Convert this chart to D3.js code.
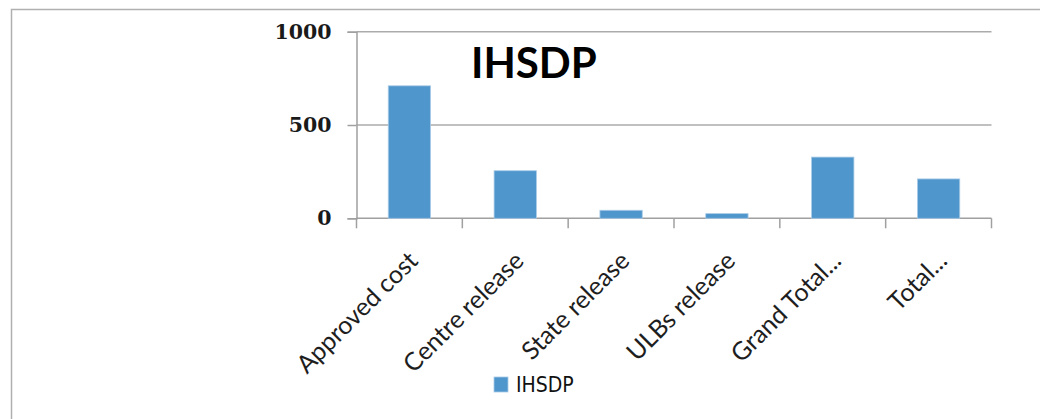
<!DOCTYPE html>
<html>
<head>
<meta charset="utf-8">
<script src="https://cdn.jsdelivr.net/npm/d3@7"></script>
<style>
  html, body { margin: 0; padding: 0; background: #fff; }
  svg { display: block; }
</style>
</head>
<body>
<svg id="chart" width="1040" height="419"></svg>
<script>
// IHSDP fund figures
const categories = ["Approved cost", "Centre release", "State release", "ULBs release", "Grand Total...", "Total..."];
const values = [710, 255, 43, 25, 328, 211];
const yTicks = [0, 500, 1000];
const seriesName = "IHSDP";

const svg = d3.select("#chart");
const W = 1040, H = 419;
const plot = { left: 356.5, right: 991.5, top: 31.7, bottom: 218.3 };

// outer chart frame
svg.append("rect")
  .attr("x", 11.5).attr("y", 9.5)
  .attr("width", W).attr("height", H)
  .attr("fill", "none").attr("stroke", "#b0b0b0").attr("stroke-width", 1.5);

const x = d3.scaleBand()
  .domain(categories)
  .range([plot.left, plot.right])
  .paddingInner(0.6)
  .paddingOuter(0.3);

const y = d3.scaleLinear()
  .domain([0, 1000])
  .range([plot.bottom, plot.top]);

// horizontal gridlines
svg.append("g")
  .selectAll("line")
  .data(yTicks.filter(d => d > 0))
  .join("line")
  .attr("x1", plot.left).attr("x2", plot.right)
  .attr("y1", d => y(d)).attr("y2", d => y(d))
  .attr("stroke", "#ababab").attr("stroke-width", 1.5);

// y axis
const yAxis = svg.append("g")
  .attr("transform", `translate(${plot.left},0)`)
  .call(d3.axisLeft(y).tickValues(yTicks).tickSize(9).tickPadding(16).tickFormat(d3.format("d")));
yAxis.select(".domain").attr("stroke", "#a0a0a0").attr("stroke-width", 1.5);
yAxis.selectAll(".tick line").attr("stroke", "#a0a0a0").attr("stroke-width", 1.5);
yAxis.selectAll(".tick text")
  .attr("font-family", "DejaVu Serif")
  .attr("font-weight", "bold")
  .attr("font-size", 20.5)
  .attr("fill", "#1a1a1a");

// x axis line and category boundary ticks
const step = x.step();
const boundaries = d3.range(categories.length + 1).map(i => plot.left + i * step);
svg.append("line")
  .attr("x1", plot.left).attr("x2", plot.right)
  .attr("y1", plot.bottom).attr("y2", plot.bottom)
  .attr("stroke", "#a0a0a0").attr("stroke-width", 1.5);
svg.append("g")
  .selectAll("line")
  .data(boundaries)
  .join("line")
  .attr("x1", d => d).attr("x2", d => d)
  .attr("y1", plot.bottom).attr("y2", plot.bottom + 10)
  .attr("stroke", "#a0a0a0").attr("stroke-width", 1.5);

// bars
svg.append("g")
  .selectAll("rect")
  .data(values)
  .join("rect")
  .attr("x", (d, i) => x(categories[i]))
  .attr("y", d => y(d))
  .attr("width", x.bandwidth())
  .attr("height", d => y(0) - y(d))
  .attr("fill", "#4f96cd")
  .attr("stroke", "#a9cbe6").attr("stroke-width", 0.8);

// rotated category labels
svg.append("g")
  .selectAll("text")
  .data(categories)
  .join("text")
  .attr("transform", d => `translate(${x(d) + x.bandwidth() / 2 + 10},${plot.bottom + 44}) rotate(-45)`)
  .attr("text-anchor", "end")
  .attr("font-family", "Lato")
  .attr("font-size", 25)
  .attr("fill", "#1e1e1e")
  .text(d => d);

// title inside plot
svg.append("text")
  .attr("x", 471).attr("y", 78)
  .attr("font-family", "Lato")
  .attr("font-weight", "bold")
  .attr("font-size", 42)
  .attr("fill", "#000")
  .text(seriesName);

// legend
const legend = svg.append("g").attr("transform", "translate(494,377)");
legend.append("rect")
  .attr("width", 14).attr("height", 15)
  .attr("fill", "#4f96cd").attr("stroke", "#a9cbe6").attr("stroke-width", 0.8);
legend.append("text")
  .attr("x", 22).attr("y", 15)
  .attr("font-family", "'DejaVu Sans Condensed', 'Liberation Sans Narrow', 'Liberation Sans'")
  .attr("font-size", 21)
  .attr("fill", "#111")
  .text(seriesName);
</script>
</body>
</html>
